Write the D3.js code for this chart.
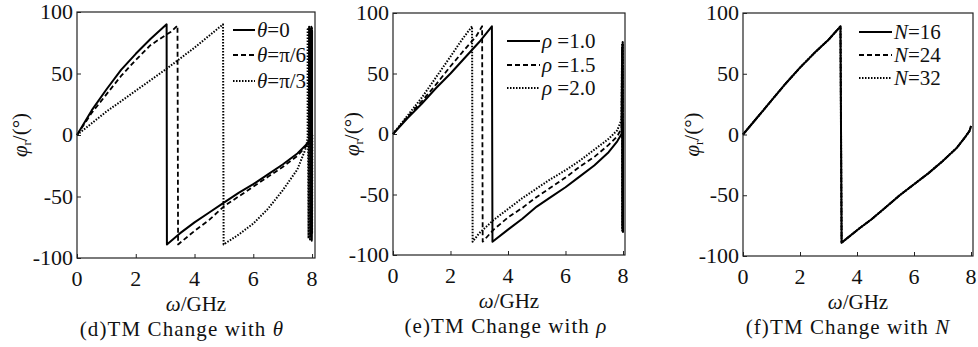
<!DOCTYPE html>
<html>
<head>
<meta charset="utf-8">
<script src="https://cdn.jsdelivr.net/npm/d3@7"></script>
<style>
  body { margin: 0; background: #fff; }
  svg { display: block; font-family: "Liberation Serif", "Times New Roman", serif; }
  .frame { fill: none; stroke: #222; stroke-width: 1.2; }
  .tick line { stroke: #222; }
  .curve { fill: none; stroke: #000; stroke-linejoin: round; }
</style>
</head>
<body>
<svg id="chart" width="978" height="347"></svg>
<script>
// values, [GHz, degrees]
const thetaZero = [[0,0],[0.5,20],[1,37],[1.5,53],[2,66],[2.5,78],[3.05,90],[3.06,-89],[3.5,-80],[4,-71],[4.5,-63],[5,-55],[5.5,-47],[6,-40],[6.5,-32],[7,-24],[7.5,-15],[7.8,-8],[7.95,-3],
  [7.96,86],[7.97,-82],[7.975,88],[7.98,-85],[7.99,87],[7.995,-80],[8,85],[8,0]];
const thetaSixth = [[0,0],[0.5,18],[1,33],[1.5,48],[2,61],[2.5,73],[3,81],[3.2,84],[3.42,89],[3.44,-89],[4,-78],[4.5,-69],[5,-58],[5.5,-50],[6,-42],[6.5,-34],[7,-26],[7.5,-17],[7.8,-9],[7.95,-3],
  [7.96,80],[7.97,-80],[7.98,84],[7.99,-86],[8,82],[8,0]];
const thetaThird = [[0,0],[1,19],[2,36],[3,53],[4,71],[4.97,90],[4.99,-89],[5.5,-81],[6,-72],[6.5,-60],[7,-45],[7.5,-28],[7.8,-10],[7.85,-2],
  [7.85,86],[7.88,-84],[7.9,88],[7.93,-85],[7.95,87],[7.97,-83],[7.99,88],[8,-80],[8.01,0]];

const rhoOne = [[0,0],[0.5,13],[1,25],[1.5,38],[2,50],[2.5,63],[3,76],[3.44,89],[3.46,-89],[4,-79],[4.5,-70],[5,-60],[5.5,-52],[6,-44],[6.5,-35],[7,-26],[7.5,-15],[7.8,-6],[7.95,0],
  [7.97,70],[7.98,-78],[7.99,75],[8,-80],[8,0]];
const rhoOneHalf = [[0,0],[0.5,14],[1,27],[1.5,41],[2,56],[2.5,70],[2.9,81],[3.1,89],[3.12,-89],[3.5,-79],[4,-69],[4.5,-61],[5,-52],[5.5,-44],[6,-36],[6.5,-27],[7,-19],[7.5,-9],[7.8,-2],[7.95,5],
  [7.97,72],[7.98,-80],[7.99,74],[8,-78],[8,5]];
const rhoTwo = [[0,0],[0.5,15],[1,30],[1.5,47],[2,64],[2.4,78],[2.75,89],[2.77,-89],[3,-82],[3.5,-71],[4,-62],[4.5,-53],[5,-45],[5.5,-37],[6,-30],[6.5,-22],[7,-13],[7.5,-4],[7.8,3],[7.95,12],
  [7.97,75],[7.98,-80],[7.99,76],[8,-81],[8,10]];

// the three N curves lie on top of each other
const nSixteen = [[0,0],[0.5,14],[1,28],[1.5,42],[2,55],[2.5,67],[3,78],[3.42,89],[3.46,-89],[4.1,-77],[4.5,-70],[5,-60],[5.5,-50],[6,-41],[6.5,-32],[7,-22],[7.5,-11],[7.8,-2],[7.95,3],[8,7]];
const nTwentyFour = nSixteen;
const nThirtyTwo = nSixteen;

const xTicks = [0, 2, 4, 6, 8];
const yTicks = [-100, -50, 0, 50, 100];

const STYLES = {
  solid: { width: 2, dash: null },
  dashed: { width: 1.8, dash: "5,3" },
  dotted: { width: 2, dash: "1.5,1.5" },
};

const panels = [
  {
    box: { left: 77, right: 315, top: 12, bottom: 258 },
    xMax: 8.1,
    yLabelX: 20,
    capShift: -14,
    series: [
      { data: thetaZero, style: "solid", label: [["θ", true], ["=0", false]] },
      { data: thetaSixth, style: "dashed", label: [["θ", true], ["=π/6", false]] },
      { data: thetaThird, style: "dotted", label: [["θ", true], ["=π/3", false]] },
    ],
    legend: { x0: 233, x1: 255, rows: [30, 55, 81] },
    caption: [["(d)TM Change with ", false], ["θ", true]],
  },
  {
    box: { left: 393, right: 625, top: 13, bottom: 255 },
    xMax: 8.07,
    yLabelX: 352,
    capShift: -3,
    series: [
      { data: rhoOne, style: "solid", label: [["ρ", true], [" =1.0", false]] },
      { data: rhoOneHalf, style: "dashed", label: [["ρ", true], [" =1.5", false]] },
      { data: rhoTwo, style: "dotted", label: [["ρ", true], [" =2.0", false]] },
    ],
    legend: { x0: 507, x1: 540, rows: [41, 65, 88] },
    caption: [["(e)TM Change with ", false], ["ρ", true]],
  },
  {
    box: { left: 743, right: 973, top: 13, bottom: 256 },
    xMax: 8.07,
    yLabelX: 692,
    capShift: -10,
    series: [
      { data: nSixteen, style: "solid", label: [["N", true], ["=16", false]] },
      { data: nTwentyFour, style: "dashed", label: [["N", true], ["=24", false]] },
      { data: nThirtyTwo, style: "dotted", label: [["N", true], ["=32", false]] },
    ],
    legend: { x0: 859, x1: 892, rows: [32, 55, 78] },
    caption: [["(f)TM Change with ", false], ["N", true]],
  },
];

function addRichText(sel, parts) {
  parts.forEach(([t, italic]) => {
    sel.append("tspan").attr("font-style", italic ? "italic" : "normal").text(t);
  });
}

function drawPanel(svg, p) {
  const { left, right, top, bottom } = p.box;
  const x = d3.scaleLinear([0, p.xMax], [left, right]);
  const y = d3.scaleLinear([-100, 100], [bottom, top]);
  const g = svg.append("g");

  // inward ticks on bottom and left
  g.append("g")
    .attr("class", "tick")
    .attr("transform", `translate(0,${bottom})`)
    .call(d3.axisBottom(x).tickValues(xTicks).tickSize(-4).tickFormat(""))
    .call((a) => a.select(".domain").remove());
  g.append("g")
    .attr("class", "tick")
    .attr("transform", `translate(${left},0)`)
    .call(d3.axisLeft(y).tickValues(yTicks).tickSize(-4).tickFormat(""))
    .call((a) => a.select(".domain").remove());

  g.selectAll(".xlab")
    .data(xTicks)
    .join("text")
    .attr("x", (d) => x(d))
    .attr("y", bottom + 28)
    .attr("text-anchor", "middle")
    .attr("font-size", 22)
    .attr("fill", "#111")
    .text((d) => d);
  g.selectAll(".ylab")
    .data(yTicks)
    .join("text")
    .attr("x", left - 4)
    .attr("y", (d) => y(d) + 7)
    .attr("text-anchor", "end")
    .attr("font-size", 22)
    .attr("fill", "#111")
    .text((d) => d);

  const line = d3.line().x((d) => x(d[0])).y((d) => y(d[1]));
  p.series.forEach((s) => {
    const st = STYLES[s.style];
    g.append("path")
      .datum(s.data)
      .attr("class", "curve")
      .attr("stroke-width", st.width)
      .attr("stroke-dasharray", st.dash)
      .attr("d", line);
  });

  g.append("rect")
    .attr("class", "frame")
    .attr("x", left)
    .attr("y", top)
    .attr("width", right - left)
    .attr("height", bottom - top);

  // legend
  p.series.forEach((s, i) => {
    const st = STYLES[s.style];
    const ry = p.legend.rows[i];
    g.append("line")
      .attr("x1", p.legend.x0)
      .attr("x2", p.legend.x1)
      .attr("y1", ry)
      .attr("y2", ry)
      .attr("stroke", "#000")
      .attr("stroke-width", st.width)
      .attr("stroke-dasharray", st.dash);
    const t = g.append("text")
      .attr("x", p.legend.x1 + 2)
      .attr("y", ry + 7)
      .attr("font-size", 21)
      .attr("fill", "#111");
    addRichText(t, s.label);
  });

  // axis titles
  const cx = (left + right) / 2;
  const xt = g.append("text")
    .attr("x", cx)
    .attr("y", bottom + 53)
    .attr("text-anchor", "middle")
    .attr("font-size", 21)
    .attr("fill", "#111");
  addRichText(xt, [["ω", true], ["/GHz", false]]);

  const yt = g.append("text")
    .attr("transform", `translate(${p.yLabelX + 7},${(top + bottom) / 2}) rotate(-90)`)
    .attr("text-anchor", "middle")
    .attr("font-size", 21)
    .attr("fill", "#111");
  yt.append("tspan").attr("font-style", "italic").text("φ");
  yt.append("tspan").attr("font-size", 13).attr("dy", 4).text("r");
  yt.append("tspan").attr("dy", -4).text("/(°)");

  const cap = g.append("text")
    .attr("x", cx + p.capShift)
    .attr("y", bottom + 78)
    .attr("text-anchor", "middle")
    .attr("font-size", 21)
    .attr("letter-spacing", 1.1)
    .attr("fill", "#111");
  addRichText(cap, p.caption);
}

const svg = d3.select("#chart");
panels.forEach((p) => drawPanel(svg, p));
</script>
</body>
</html>
